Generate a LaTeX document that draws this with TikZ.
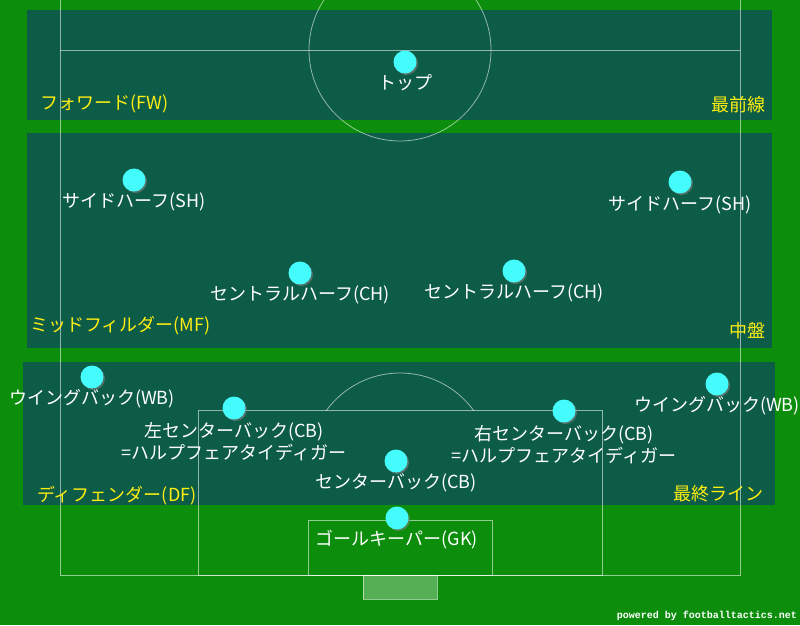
\documentclass[tikz,border=0pt]{standalone}
\usepackage{fontspec}
\setmainfont{Noto Sans CJK JP}
\setmonofont{Liberation Mono}
\usetikzlibrary{positioning, shadows}
\definecolor{grass}{HTML}{0C8E0C}
\definecolor{zonefill}{HTML}{0C5C48}
\definecolor{playercyan}{HTML}{44FCFC}
\definecolor{zonetext}{HTML}{FFEE11}
\tikzset{
    x=1pt, y=-1pt, % one unit is one pixel, y runs down the page
    band/.style={fill=zonefill}, % the shaded strip for each line of the team
    pitchline/.style={draw=white, draw opacity=0.55, line width=0.8pt}, % the markings of the pitch
    player/.style={circle, fill=playercyan, minimum size=23pt, inner sep=0pt,
        drop shadow={shadow xshift=1.5pt, shadow yshift=-1.5pt, opacity=0.6}}, % one player
    role/.style={text=white, font=\fontsize{18}{22}\selectfont, inner sep=1pt, align=center}, % name of the position
    oneline/.style={text height=15pt, text depth=3pt},
    zonelabel/.style={text=zonetext, font=\fontsize{18}{20}\selectfont, inner sep=0pt}, % name of the line
}
\def\centrecircle{(400,50) circle [radius=91pt]}
\def\penaltyarc{(400,464) circle [radius=91pt]}

\begin{document}
\begin{tikzpicture}
        \fill[grass] (0,0) rectangle (800,625);
        \useasboundingbox (0,0) rectangle (800,625);
        \clip (0,0) rectangle (800,625);
        % bands
        \fill[band] (27,10) rectangle (772,120);
        \fill[band] (27,133) rectangle (772,348);
        \fill[band] (23,362) rectangle (775,505);
        % pitch
        \draw[pitchline] (60,0) -- (60,575) -- (740,575) -- (740,0);
        \draw[pitchline] (60,50) -- (740,50);
        \draw[pitchline] \centrecircle;
        \draw[pitchline] (198,575) rectangle (602,410);
        \draw[pitchline] (308,575) rectangle (492,520);
        \begin{scope}
        \clip (0,0) rectangle (800,410);
        \draw[pitchline] \penaltyarc;
        \end{scope}
        \draw[pitchline, fill=white, fill opacity=0.3] (363,575) rectangle (437,599);
        % lines of the team
        \node[zonelabel, anchor=west] (fwzone) at (40,104) {フォワード(FW)};
        \node[zonelabel, anchor=east] (fwline) at (766,105) {最前線};
        \node[zonelabel, anchor=west] (mfzone) at (30,326) {ミッドフィルダー(MF)};
        \node[zonelabel, anchor=east] (mfline) at (766,331) {中盤};
        \node[zonelabel, anchor=west] (dfzone) at (37,496) {ディフェンダー(DF)};
        \node[zonelabel, anchor=east] (dfline) at (764,494) {最終ライン};
        % players
        \node[player] (top) at (405,62) {};
        \node[player] (shl) at (134,180) {};
        \node[player] (shr) at (680,182) {};
        \node[player] (chl) at (300,273) {};
        \node[player] (chr) at (514,271) {};
        \node[player] (wbl) at (92,377) {};
        \node[player] (wbr) at (717,384) {};
        \node[player] (cbl) at (234,408) {};
        \node[player] (cbr) at (564,411) {};
        \node[player] (cbc) at (396,461) {};
        \node[player] (gk) at (397,518) {};
        % positions
        \node[role, oneline, below=0pt of top] (toplab) {トップ};
        \node[role, oneline, below=0pt of shl] (shllab) {サイドハーフ(SH)};
        \node[role, oneline, below=1pt of shr] (shrlab) {サイドハーフ(SH)};
        \node[role, oneline, below=0pt of chl] (chllab) {セントラルハーフ(CH)};
        \node[role, oneline, below=0pt of chr] (chrlab) {セントラルハーフ(CH)};
        \node[role, oneline, below=0pt of wbl] (wbllab) {ウイングバック(WB)};
        \node[role, oneline, below=0pt of wbr] (wbrlab) {ウイングバック(WB)};
        \node[role, below=1pt of cbl] (cbllab) {左センターバック(CB)\\=ハルプフェアタイディガー};
        \node[role, below=1pt of cbr] (cbrlab) {右センターバック(CB)\\=ハルプフェアタイディガー};
        \node[role, oneline, below=0pt of cbc] (cbclab) {センターバック(CB)};
        \node[role, oneline, below=0pt of gk] (gklab) {ゴールキーパー(GK)};
        \node[text=white, font=\ttfamily\bfseries\fontsize{10}{12}\selectfont, anchor=east, inner sep=0pt] (credit) at (797,616) {powered by footballtactics.net};
    \end{tikzpicture}
\end{document}
